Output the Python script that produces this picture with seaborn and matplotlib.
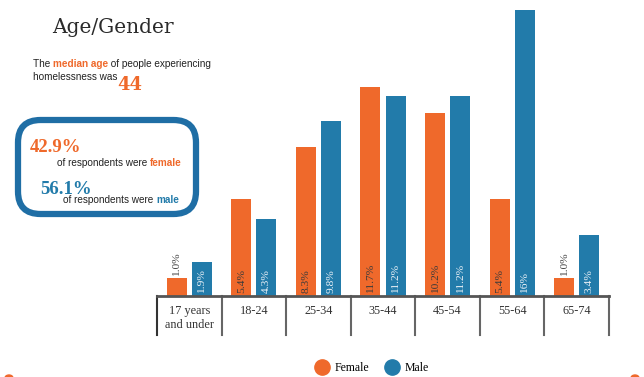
import matplotlib
matplotlib.use('Agg')
import pandas as pd
import matplotlib.pyplot as plt
import seaborn as sns
from matplotlib.lines import Line2D
from matplotlib.patches import FancyBboxPatch, Ellipse
from matplotlib.transforms import offset_copy

# Data
age_groups = ['17 years\nand under', '18-24', '25-34', '35-44', '45-54', '55-64', '65-74']
female = [1.0, 5.4, 8.3, 11.7, 10.2, 5.4, 1.0]
male = [1.9, 4.3, 9.8, 11.2, 11.2, 16.0, 3.4]
female_labels = ['1.0%', '5.4%', '8.3%', '11.7%', '10.2%', '5.4%', '1.0%']
male_labels = ['1.9%', '4.3%', '9.8%', '11.2%', '11.2%', '16%', '3.4%']
genders = ['Female', 'Male']

ORANGE = '#ef692b'
BLUE = '#227baa'
palette = {'Female': ORANGE, 'Male': BLUE}

df = pd.DataFrame({
    'Age': age_groups * 2,
    'Percent': female + male,
    'Gender': ['Female'] * len(female) + ['Male'] * len(male),
})

W, H = 644, 377
fig = plt.figure(figsize=(W / 100, H / 100), dpi=100)


def fx(px):
    return px / W


def fy(py):
    return 1 - py / H


# Main bar chart
ax = fig.add_axes([fx(157), fy(296), fx(609) - fx(157), 296 / H])
sns.barplot(data=df, x='Age', y='Percent', hue='Gender', hue_order=genders,
            palette=palette, width=0.775, gap=0.2, saturation=1,
            legend=False, ax=ax, linewidth=0)
ax.set_xlim(-0.5, len(age_groups) - 0.5)
ax.set_ylim(0, 16.54)
ax.set_xlabel('')
ax.set_ylabel('')
ax.set_yticks([])
for side in ['top', 'right', 'left']:
    ax.spines[side].set_visible(False)
ax.spines['bottom'].set_color('#555555')
ax.spines['bottom'].set_linewidth(2)
ax.tick_params(axis='x', length=0, pad=6.5)
for lbl in ax.get_xticklabels():
    lbl.set_fontfamily('Liberation Serif')
    lbl.set_fontsize(8.8)
    lbl.set_color('#333333')
    lbl.set_linespacing(1.2)

# category separators below the axis
xt = ax.get_xaxis_transform()
for i in range(len(age_groups) + 1):
    ax.plot([i - 0.5, i - 0.5], [0, -0.132], transform=xt, clip_on=False,
            color='#666666' if i else '#333333', lw=1.5)

# bar value labels
for cont, vals, labels, col in zip(ax.containers, [female, male],
                                   [female_labels, male_labels],
                                   ['#3a3a3a', '#eef3f8']):
    for bar, v, s in zip(cont, vals, labels):
        x = bar.get_x() + bar.get_width() / 2
        if v < 1.5 and col != '#eef3f8':
            ax.annotate(s, (x, v), xytext=(0, 1.5), textcoords='offset points',
                        rotation=90, ha='center', va='bottom', color='#444444',
                        fontsize=8.2, family='Liberation Serif')
        else:
            ax.annotate(s, (x, 0), xytext=(0, 2.2), textcoords='offset points',
                        rotation=90, ha='center', va='bottom', color=col,
                        fontsize=8.2, family='Liberation Serif')

# legend
handles = [Line2D([], [], marker='o', ls='', color=palette[g], markersize=11, label=g)
           for g in genders]
fig.legend(handles=handles, loc='center', bbox_to_anchor=(fx(372), fy(368)), ncol=2,
           frameon=False, prop={'family': 'Liberation Serif', 'size': 8.5},
           handletextpad=0.5, columnspacing=1.3, handlelength=1.2)

# left side text panel
renderer = fig.canvas.get_renderer()


def runs(x, y, parts, size=7.2, family='Liberation Sans'):
    trans = fig.transFigure
    t = None
    for s, color, weight in parts:
        t = fig.text(x, y, s, color=color, fontweight=weight, fontsize=size,
                     family=family, va='baseline', ha='left', transform=trans)
        t.draw(renderer)
        ex = t.get_window_extent(renderer)
        trans = offset_copy(t.get_transform(), fig=fig, x=ex.width, units='dots')
    return t


fig.text(fx(52), fy(33), 'Age/Gender', fontsize=14.5, family='DejaVu Serif',
         color='#2b2b2b', va='baseline')

runs(fx(33), fy(67), [('The ', '#222222', 'normal'),
                      ('median age', ORANGE, 'bold'),
                      (' of people experiencing', '#222222', 'normal')])
last = runs(fx(33), fy(80), [('homelessness was', '#222222', 'normal')])
ex = last.get_window_extent(renderer)
fig.text(ex.x1 / W, fy(90), '44', fontsize=13, family='DejaVu Serif', color=ORANGE,
         fontweight='bold', va='baseline')

box = FancyBboxPatch((fx(18), fy(214)), fx(196) - fx(18), fy(120) - fy(214),
                     boxstyle='round,pad=0,rounding_size=0.035', transform=fig.transFigure,
                     fill=False, edgecolor='#1f6ea5', lw=4.5, mutation_aspect=W / H)
fig.add_artist(box)

fig.text(fx(30), fy(152), '42.9%', fontsize=13.5, family='Liberation Serif', color=ORANGE,
         fontweight='bold', va='baseline')
runs(fx(57), fy(166), [('of respondents were ', '#222222', 'normal'),
                       ('female', ORANGE, 'bold')])
fig.text(fx(40), fy(194), '56.1%', fontsize=13.5, family='Liberation Serif', color=BLUE,
         fontweight='bold', va='baseline')
runs(fx(63), fy(203), [('of respondents were ', '#222222', 'normal'),
                       ('male', BLUE, 'bold')])

# small decorative dots at the bottom corners
for cx in [9, 635]:
    fig.add_artist(Ellipse((fx(cx), fy(378)), fx(8), 6 / H, color=ORANGE,
                           transform=fig.transFigure, clip_on=False))

fig.savefig('out.png', dpi=100, facecolor='white')
